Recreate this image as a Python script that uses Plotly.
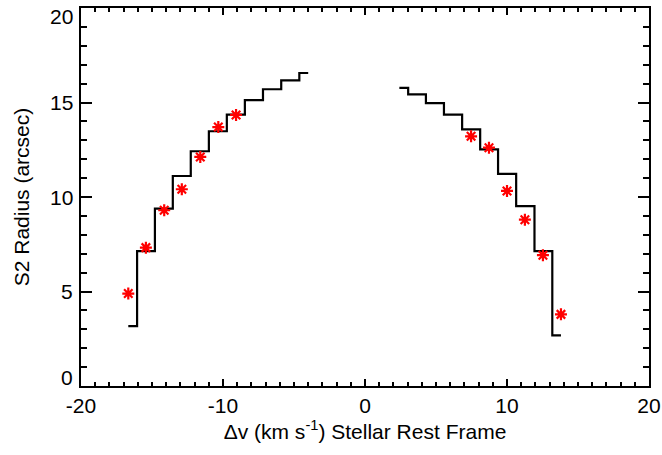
import plotly.graph_objects as go

# Left (blue-shifted) side: step-line channel centres and radii
left_v = [-16.67, -15.43, -14.16, -12.91, -11.63, -10.36, -9.10, -7.82, -6.55, -5.25, -4.00]
left_r = [3.17, 7.14, 9.39, 11.11, 12.42, 13.48, 14.36, 15.13, 15.70, 16.17, 16.56]
# Right (red-shifted) side
right_v = [2.42, 3.66, 4.92, 6.20, 7.48, 8.74, 10.00, 11.29, 12.58, 13.80]
right_r = [15.77, 15.43, 14.97, 14.36, 13.58, 12.52, 11.22, 9.52, 7.14, 2.68]

# Red asterisk measurements
star_v = [-16.67, -15.43, -14.14, -12.90, -11.60, -10.33, -9.08, 7.47, 8.73, 10.00, 11.26, 12.53, 13.80]
star_r = [4.89, 7.32, 9.30, 10.41, 12.12, 13.70, 14.34, 13.21, 12.61, 10.32, 8.80, 6.92, 3.79]

x_ticks = [-20, -10, 0, 10, 20]
x_ticktext = ["-20", "-10", "0", "10", "20"]
y_ticks = [0, 5, 10, 15, 20]
y_ticktext = ["0", "5", "10", "15", "20"]

FONT = "Liberation Sans, Arial, Helvetica, sans-serif"
FS = 21

fig = go.Figure()
for vx, ry in ((left_v, left_r), (right_v, right_r)):
    fig.add_trace(go.Scatter(x=vx, y=ry, mode="lines", line=dict(color="black", width=2.2, shape="hvh"),
                             showlegend=False, hoverinfo="skip"))
fig.add_trace(go.Scatter(x=star_v, y=star_r, mode="markers",
                         marker=dict(symbol="asterisk", size=10, color="red",
                                     line=dict(color="red", width=2.2)),
                         showlegend=False))

common = dict(showgrid=False, zeroline=False, showline=True, linecolor="black", linewidth=2,
              ticks="inside", tickcolor="black", tickwidth=1.5, mirror="allticks",
              automargin=False, tickfont=dict(family=FONT, size=FS, color="black"))

fig.update_xaxes(range=[x_ticks[0], x_ticks[-1]], tickvals=x_ticks, ticktext=x_ticktext,
                 ticklen=7, ticklabeloverflow="allow",
                 minor=dict(dtick=1, ticks="inside", ticklen=4, tickcolor="black", tickwidth=1.5),
                 title=dict(text="Δv (km s<sup>-1</sup>) Stellar Rest Frame",
                            font=dict(family=FONT, size=FS, color="black"), standoff=4),
                 **common)
fig.update_yaxes(range=[y_ticks[0], y_ticks[-1]], tickvals=y_ticks, ticktext=y_ticktext,
                 ticklen=11, showticklabels=False,
                 minor=dict(dtick=1, ticks="inside", ticklen=6, tickcolor="black", tickwidth=1.5),
                 title=dict(text="S2 Radius (arcsec)",
                            font=dict(family=FONT, size=FS, color="black"), standoff=44),
                 **common)

fig.update_layout(width=662, height=455, margin=dict(l=81, r=13, t=8, b=69),
                  plot_bgcolor="white", paper_bgcolor="white", showlegend=False)

# y tick labels: end labels are nudged inward, as in the reference
shifts = {0: 9, 20: -8}
for val, txt in zip(y_ticks, y_ticktext):
    fig.add_annotation(x=0, xref="paper", xanchor="right", xshift=-6, y=val, yref="y",
                       yanchor="middle", yshift=shifts.get(val, 0), text=txt, showarrow=False,
                       font=dict(family=FONT, size=FS, color="black"))

fig.write_html("out.html", config={"displayModeBar": False},
               post_script="document.body.style.margin='0';document.body.style.overflow='hidden';")
